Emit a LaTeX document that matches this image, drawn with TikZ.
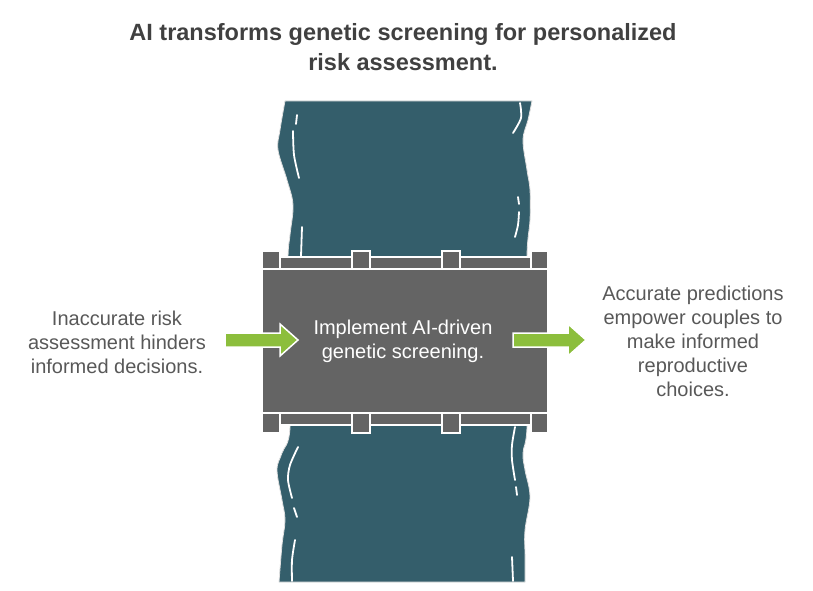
\documentclass[tikz,border=0pt]{standalone}
\usepackage{fontspec}
\setmainfont{Liberation Sans}
\definecolor{rivercol}{RGB}{52,94,107}
\definecolor{bridgecol}{RGB}{100,100,100}
\definecolor{arrowcol}{RGB}{140,190,60}
\definecolor{titlecol}{RGB}{64,64,64}
\definecolor{sidecol}{RGB}{88,88,88}
\tikzset{
  river/.style={fill=rivercol, draw=black!12, line width=0.8pt},
  ripple/.style={draw=white, line width=1.8pt, line cap=round},
  rail/.style={fill=bridgecol, draw=white, line width=1.2pt},
  bridgebox/.style={fill=bridgecol, draw=white, line width=1.2pt, minimum width=286pt, minimum height=144pt, inner sep=0pt},
  decktext/.style={text=white, align=center, font=\fontsize{20}{24}\selectfont, inner sep=0pt},
  sidetext/.style={text=sidecol, align=center, font=\fontsize{20}{24}\selectfont, inner sep=0pt},
  titletext/.style={text=titlecol, align=center, font=\fontsize{23.5}{30}\selectfont\bfseries, inner sep=0pt},
  blockarrow/.style={fill=arrowcol, draw=white, line width=1.5pt, line join=miter},
}
\begin{document}
\begin{tikzpicture}[x=1pt,y=-1pt]
\useasboundingbox (0,0) rectangle (813,591);
% river
\path[river] plot[smooth, tension=0.6] coordinates {(285,101) (280,130) (278,150) (287,180) (293,205) (290,235) (288,260) (289,340) (290,428) (282,453) (277,470) (282,500) (285,520) (282,545) (279,582)}
  -- plot[smooth, tension=0.6] coordinates {(525,582) (525,555) (525,530) (530,497) (525,470) (523,453) (527,427) (527,340) (527,255) (530,220) (530,190) (527,170) (523,140) (528,120) (532,101)} -- cycle;
% ripples
\draw[ripple] plot[smooth] coordinates {(297,115) (296,124)};
\draw[ripple] plot[smooth] coordinates {(293,131) (294,155) (299,178)};
\draw[ripple] plot[smooth] coordinates {(302,227) (301,256)};
\draw[ripple] plot[smooth] coordinates {(520,103) (521,118) (513,133)};
\draw[ripple] plot[smooth] coordinates {(518,197) (519,204)};
\draw[ripple] plot[smooth] coordinates {(519,212) (518,225) (515,237)};
\draw[ripple] plot[smooth] coordinates {(298,447) (290,465) (288,480) (292,498)};
\draw[ripple] plot[smooth] coordinates {(294,508) (297,517)};
\draw[ripple] plot[smooth] coordinates {(295,540) (292,560) (292,581)};
\draw[ripple] plot[smooth] coordinates {(515,427) (512,445) (512,460) (515,480)};
\draw[ripple] plot[smooth] coordinates {(516,487) (517,495)};
\draw[ripple] plot[smooth] coordinates {(512,557) (513,581)};
% bridge rails and posts
\draw[rail] (262,257) rectangle (548,269);
\draw[rail] (262,413) rectangle (548,425);
\foreach \px in {262,352,442}{
  \draw[rail] (\px,251) rectangle ++(18,18);
  \draw[rail] (\px,413) rectangle ++(18,20);
}
\draw[rail] (531,251) rectangle ++(17,18);
\draw[rail] (531,413) rectangle ++(17,20);
% bridge deck
\node[bridgebox] (bridge) at (405,341) {};
\node[decktext] (deck) at (403,341) {Implement AI-driven\\genetic screening.};
% arrows
\draw[blockarrow] (225,333) -- (280,333) -- (280,324) -- (298,340) -- (280,356) -- (280,347) -- (225,347) -- cycle;
\draw[blockarrow] (513,333) -- (568,333) -- (568,324) -- (586,340) -- (568,356) -- (568,347) -- (513,347) -- cycle;
% texts
\node[titletext] (title) at (403,47) {AI transforms genetic screening for personalized\\risk assessment.};
\node[sidetext] (left) at (117,342) {Inaccurate risk\\assessment hinders\\informed decisions.};
\node[sidetext] (right) at (693,341) {Accurate predictions\\empower couples to\\make informed\\reproductive\\choices.};
\end{tikzpicture}
\end{document}
